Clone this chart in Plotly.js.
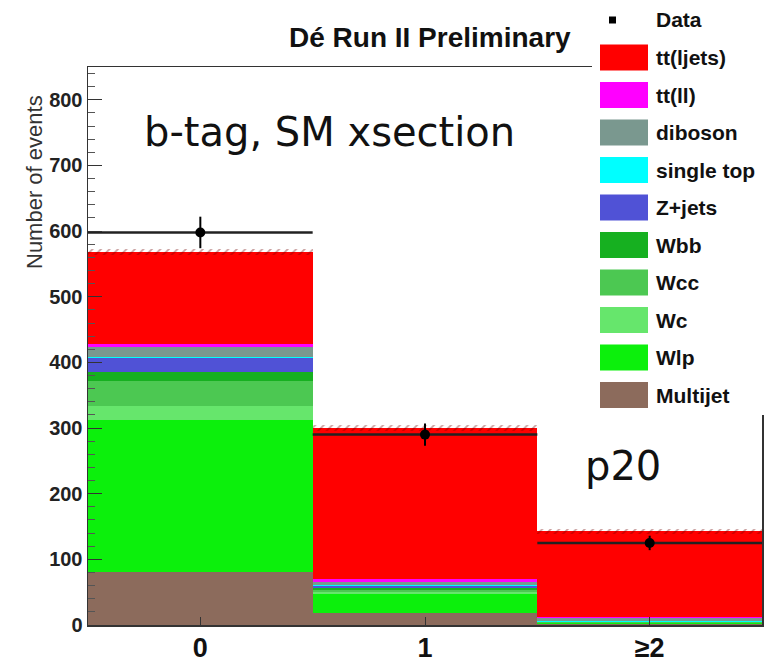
<!DOCTYPE html>
<html>
<head>
<meta charset="utf-8">
<script src="https://cdn.plot.ly/plotly-3.0.1.min.js"></script>
<style>html,body{margin:0;padding:0;background:#fff;}#chart{width:773px;height:667px;}</style>
</head>
<body>
<div id="chart"></div>
<script>
// ---- data ----
var bins = [0, 1, 2];
var binLabels = ["0", "1", "\u22652"];
var seriesNames = ["Multijet", "Wlp", "Wc", "Wcc", "Wbb", "Z+jets", "single top", "diboson", "tt(ll)", "tt(ljets)"];
var multijet  = [80, 18, 2];
var wlp       = [233, 29, 1];
var wc        = [20, 3, 0.5];
var wcc       = [38, 3, 0.5];
var wbb       = [15, 4, 0.5];
var zjets     = [21, 3, 0.5];
var singletop = [1, 1, 1];
var diboson   = [15, 4, 5];
var ttll      = [5, 5, 1.5];
var ttljets   = [140, 230, 130];
var dataVals  = [598, 290, 125];
var dataErr   = [24, 17, 11];
var mcErr     = [5, 5, 4];
var yTicks    = [0, 100, 200, 300, 400, 500, 600, 700, 800];

var seriesVals = [multijet, wlp, wc, wcc, wbb, zjets, singletop, diboson, ttll, ttljets];
var seriesColors = ["#8c6b5c", "#0cf00c", "#66e66c", "#4cc852", "#16b020", "#5052d6", "#00ffff", "#7a988f", "#ff00ff", "#ff0000"];

var traces = [];
for (var i = 0; i < seriesNames.length; i++) {
  traces.push({
    type: "bar", x: bins, y: seriesVals[i], width: 1, name: seriesNames[i],
    marker: {color: seriesColors[i], line: {width: 0}}, showlegend: false, hoverinfo: "skip"
  });
}
// total and uncertainty band
var total = bins.map(function(b, k){ var s = 0; seriesVals.forEach(function(v){ s += v[k]; }); return s; });
traces.push({
  type: "bar", x: bins, base: total.map(function(t, k){ return t - mcErr[k]; }),
  y: mcErr.map(function(e){ return 2 * e; }), width: 1, showlegend: false, hoverinfo: "skip",
  marker: {color: "rgba(0,0,0,0)", line: {width: 0},
    pattern: {shape: "/", fgcolor: "rgba(110,0,0,0.75)", bgcolor: "rgba(0,0,0,0)", size: 6, solidity: 0.3, fillmode: "overlay"}}
});
traces.push({
  type: "scatter", mode: "markers", x: bins, y: dataVals, showlegend: false, hoverinfo: "skip",
  marker: {color: "#000", size: 10, symbol: "circle"},
  error_y: {type: "data", array: dataErr, color: "#000", thickness: 2, width: 0},
  error_x: {type: "constant", value: 0.5, color: "#222", thickness: 2.5, width: 0}
});

// ---- layout helpers (pixel -> paper) ----
var L = 88, R = 762, T = 67, B = 625;
function px(x){ return (x - L) / (R - L); }
function py(y){ return (B - y) / (B - T); }

var shapes = [
  {type: "rect", xref: "paper", yref: "paper", x0: px(592), x1: px(773), y0: py(415), y1: py(0),
   fillcolor: "#fff", line: {width: 0}, layer: "above"}
];
var annotations = [
  {xref: "paper", yref: "paper", x: px(430), y: py(37), text: "<b>D\u00e9 Run II Preliminary</b>", showarrow: false,
   font: {family: "Liberation Sans, Arial", size: 28, color: "#111"}, xanchor: "center", yanchor: "middle"},
  {xref: "paper", yref: "paper", x: px(34), y: py(182), text: "Number of events", textangle: -90, showarrow: false,
   font: {family: "Liberation Sans, Arial", size: 22, color: "#333"}, xanchor: "center", yanchor: "middle"},
  {xref: "paper", yref: "paper", x: px(142), y: py(132), text: "b-tag, SM xsection", showarrow: false,
   font: {family: "DejaVu Sans", size: 40, color: "#111"}, xanchor: "left", yanchor: "middle"},
  {xref: "paper", yref: "paper", x: px(583), y: py(466), text: "p20", showarrow: false,
   font: {family: "DejaVu Sans", size: 40, color: "#111"}, xanchor: "left", yanchor: "middle"}
];

// custom legend (top to bottom)
var legendNames = ["Data"].concat(seriesNames.slice().reverse());
var legendColors = [null].concat(seriesColors.slice().reverse());
for (var j = 0; j < legendNames.length; j++) {
  var cy = 20 + j * 37.5;
  if (j === 0) {
    shapes.push({type: "rect", xref: "paper", yref: "paper", x0: px(609), x1: px(616), y0: py(cy + 3.5), y1: py(cy - 3.5),
      fillcolor: "#000", line: {width: 0}, layer: "above"});
  } else {
    shapes.push({type: "rect", xref: "paper", yref: "paper", x0: px(600), x1: px(648), y0: py(cy + 13), y1: py(cy - 13),
      fillcolor: legendColors[j], line: {width: 0}, layer: "above"});
  }
  annotations.push({xref: "paper", yref: "paper", x: px(654), y: py(cy), text: "<b>" + legendNames[j] + "</b>", showarrow: false,
    font: {family: "Liberation Sans, Arial", size: 21, color: "#111"}, xanchor: "left", yanchor: "middle"});
}

var layout = {
  width: 773, height: 667,
  margin: {l: L, r: 773 - R, t: T, b: 667 - B, pad: 0},
  paper_bgcolor: "#fff", plot_bgcolor: "#fff",
  barmode: "stack", bargap: 0,
  showlegend: false,
  xaxis: {range: [-0.5, 2.5], tickvals: bins, ticktext: binLabels.map(function(s){ return "<b>" + s + "</b>"; }),
    ticks: "inside", ticklen: 8, tickcolor: "#333", ticklabelstandoff: -2,
    showline: true, linecolor: "#333", linewidth: 1.5, mirror: true, showgrid: false, zeroline: false,
    tickfont: {family: "Liberation Sans, Arial", size: 27, color: "#111"}},
  yaxis: {range: [0, 850], tickvals: yTicks, ticktext: yTicks.map(function(v){ return "<b>" + v + "</b>"; }),
    ticks: "inside", ticklen: 14, tickcolor: "#333",
    minor: {dtick: 20, ticks: "inside", ticklen: 7, tickcolor: "#555", showgrid: false},
    showline: true, linecolor: "#333", linewidth: 1.5, mirror: true, showgrid: false, zeroline: false,
    tickfont: {family: "Liberation Sans, Arial", size: 20, color: "#222"}},
  shapes: shapes,
  annotations: annotations
};

Plotly.newPlot("chart", traces, layout, {staticPlot: true, displayModeBar: false});
</script>
</body>
</html>
